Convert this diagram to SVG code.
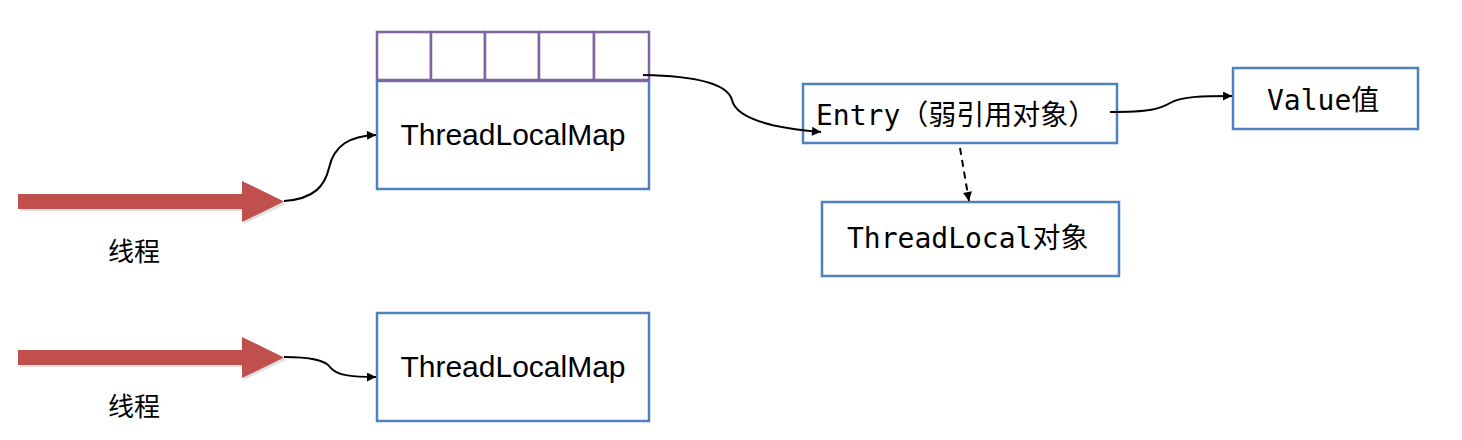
<svg xmlns="http://www.w3.org/2000/svg" width="1462" height="440" viewBox="0 0 1462 440">
<style>
.box{fill:#fff;stroke:#4F81BD;stroke-width:2.5}
.cell{fill:#fff;stroke:#8064A2;stroke-width:2.5}
.map{font-family:"Liberation Sans",Arial,sans-serif;font-size:30px;fill:#000}
.mono{font-family:"DejaVu Sans Mono","Noto Sans CJK SC",monospace;font-size:28px;fill:#000}
.cn{font-family:"Noto Sans CJK SC",sans-serif;font-size:26px;fill:#000}
.conn{fill:none;stroke:#000;stroke-width:2}
.thread{fill:#C0504D}
.shadow{fill:#999;opacity:0.3}
</style>
<defs>
<marker id="ah" viewBox="0 0 10 10" refX="10" refY="5" markerWidth="10" markerHeight="9" markerUnits="userSpaceOnUse" orient="auto">
<path d="M0,0 L10,5 L0,10 z" fill="#000"/>
</marker>
</defs>
<rect width="1462" height="440" fill="#fff"/>
<g id="thread1">
<path class="shadow" d="M20,196 L244,196 L244,183 L286,204 L244,224 L244,211 L20,211 z"/>
<path class="thread" d="M18,194 L242,194 L242,181 L284,201.5 L242,222 L242,209 L18,209 z"/>
<text class="cn" x="108" y="261">线程</text>
</g>
<g id="thread2">
<path class="shadow" d="M20,352 L244,352 L244,339 L286,360 L244,380 L244,367 L20,367 z"/>
<path class="thread" d="M18,350 L242,350 L242,337 L284,357.5 L242,378 L242,365 L18,365 z"/>
<text class="cn" x="108" y="416">线程</text>
</g>
<g id="map1">
<rect class="cell" x="377" y="32" width="54" height="48"/>
<rect class="cell" x="431" y="32" width="54" height="48"/>
<rect class="cell" x="485" y="32" width="54" height="48"/>
<rect class="cell" x="539" y="32" width="55" height="48"/>
<rect class="cell" x="594" y="32" width="55" height="48"/>
<rect class="box" x="377" y="81" width="272" height="108"/>
<line x1="377" y1="80.5" x2="649" y2="80.5" stroke="#8064A2" stroke-width="2.5"/>
<text class="map" x="513" y="145" text-anchor="middle">ThreadLocalMap</text>
</g>
<g id="map2">
<rect class="box" x="377" y="313" width="272" height="108"/>
<text class="map" x="513" y="377" text-anchor="middle">ThreadLocalMap</text>
</g>
<g id="entry">
<rect class="box" x="803" y="84" width="314" height="59"/>
<text class="mono" x="816" y="125">Entry（弱引用对象）</text>
</g>
<g id="threadlocal">
<rect class="box" x="822" y="202" width="297" height="74"/>
<text class="mono" x="847" y="248">ThreadLocal对象</text>
</g>
<g id="value">
<rect class="box" x="1233" y="68" width="185" height="61"/>
<text class="mono" x="1267" y="110">Value值</text>
</g>
<g id="connectors">
<path class="conn" marker-end="url(#ah)" d="M284,201 C315,199 325,185 329,168 C334,145 350,136 376,135"/>
<path class="conn" marker-end="url(#ah)" d="M284,357 C310,357 325,360 330,367 C336,376 355,377 376,377"/>
<path class="conn" marker-end="url(#ah)" d="M643,75 C700,76 728,85 732,100 C737,122 785,129 821,132"/>
<path class="conn" marker-end="url(#ah)" d="M1110,112 C1150,112 1160,109 1170,103 C1182,96 1205,96 1232,96"/>
<path class="conn" marker-end="url(#ah)" stroke-dasharray="7,5" d="M960,148 L969,201"/>
</g>
</svg>
